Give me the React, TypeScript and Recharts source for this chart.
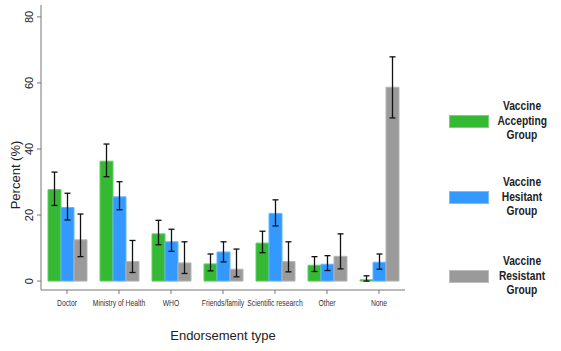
import { BarChart, Bar, XAxis, YAxis, ErrorBar } from 'recharts'

const categories = ['Doctor', 'Ministry of Health', 'WHO', 'Friends/family', 'Scientific research', 'Other', 'None']

// point estimates (%)
const accepting = [27.7, 36.3, 14.3, 5.2, 11.5, 4.8, 0.4]
const hesitant = [22.3, 25.5, 11.9, 8.8, 20.5, 5.1, 5.7]
const resistant = [12.5, 5.9, 5.5, 3.6, 5.9, 7.5, 58.7]

// 95% CI bounds
const acceptingLow = [22.9, 31.6, 11.0, 3.1, 8.6, 2.9, 0]
const acceptingHigh = [33.0, 41.5, 18.4, 8.2, 15.1, 7.4, 1.6]
const hesitantLow = [18.5, 21.6, 9.0, 5.8, 16.7, 3.2, 3.6]
const hesitantHigh = [26.6, 30.1, 15.7, 11.9, 24.6, 7.7, 8.2]
const resistantLow = [7.4, 2.6, 2.3, 1.3, 2.8, 3.7, 49.4]
const resistantHigh = [20.3, 12.3, 11.9, 9.7, 11.9, 14.3, 67.9]

const yTicks = [0, 20, 40, 60, 80]

const GREEN = '#35b935'
const BLUE = '#3399ff'
const GRAY = '#9a9a9a'

const data = categories.map((c, i) => ({
  name: c,
  acc: accepting[i],
  hes: hesitant[i],
  res: resistant[i],
  accErr: [accepting[i] - acceptingLow[i], acceptingHigh[i] - accepting[i]],
  hesErr: [hesitant[i] - hesitantLow[i], hesitantHigh[i] - hesitant[i]],
  resErr: [resistant[i] - resistantLow[i], resistantHigh[i] - resistant[i]],
}))

const legendItems = [
  { color: GREEN, lines: ['Vaccine', 'Accepting', 'Group'], top: 99 },
  { color: BLUE, lines: ['Vaccine', 'Hesitant', 'Group'], top: 175 },
  { color: GRAY, lines: ['Vaccine', 'Resistant', 'Group'], top: 254 },
]

const font = '"Liberation Sans", Arial, sans-serif'

function YTick(props: any) {
  const { x, y, payload } = props
  return (
    <text
      x={x - 2}
      y={y}
      transform={`rotate(-90 ${x - 2} ${y})`}
      textAnchor="middle"
      fontSize={11}
      fill="#222"
      fontFamily={font}
    >
      {payload.value}
    </text>
  )
}

// tick labels in the original are set in a condensed face
function XTick(props: any) {
  const { x, y, payload } = props
  return (
    <text
      transform={`translate(${x} ${y + 10}) scale(0.8 1)`}
      textAnchor="middle"
      fontSize={8.5}
      fill="#333"
      fontFamily={font}
    >
      {payload.value}
    </text>
  )
}

export default function App() {
  return (
    <div style={{ position: 'absolute', left: 0, top: 0, width: 561, height: 351, background: '#fff' }}>
      <BarChart
        width={561}
        height={351}
        data={data}
        margin={{ top: 5, right: 156, bottom: 0, left: 0 }}
        barGap={0}
        barSize={13}
      >
        <XAxis
          dataKey="name"
          height={61}
          stroke="#777"
          tickSize={4}
          tick={<XTick />}
          interval={0}
          label={{
            value: 'Endorsement type',
            position: 'insideBottom',
            offset: 11,
            fontSize: 13,
            fill: '#222',
            fontFamily: font,
          }}
        />
        <YAxis
          width={41}
          type="number"
          domain={[-2.7, 83.6]}
          ticks={yTicks}
          allowDataOverflow
          stroke="#777"
          tickSize={4}
          tick={<YTick />}
          label={{
            value: 'Percent (%)',
            content: () => (
              <text
                x={20}
                y={175}
                transform="rotate(-90 20 175)"
                textAnchor="middle"
                fontSize={13}
                fill="#222"
                fontFamily={font}
              >
                Percent (%)
              </text>
            ),
          }}
        />
        <Bar dataKey="acc" fill={GREEN} stroke="#5fd05f" strokeWidth={1} isAnimationActive={false}>
          <ErrorBar dataKey="accErr" width={3} stroke="#111" strokeWidth={1.3} />
        </Bar>
        <Bar dataKey="hes" fill={BLUE} stroke="#66b5ff" strokeWidth={1} isAnimationActive={false}>
          <ErrorBar dataKey="hesErr" width={3} stroke="#111" strokeWidth={1.3} />
        </Bar>
        <Bar dataKey="res" fill={GRAY} stroke="#b5b5b5" strokeWidth={1} isAnimationActive={false}>
          <ErrorBar dataKey="resErr" width={3} stroke="#111" strokeWidth={1.3} />
        </Bar>
      </BarChart>
      {legendItems.map((it) => (
        <div key={it.lines[1]} style={{ position: 'absolute', left: 449, top: it.top, width: 112, height: 45 }}>
          <div
            style={{
              position: 'absolute',
              left: 0,
              top: 16,
              width: 40,
              height: 13,
              background: it.color,
              boxSizing: 'border-box',
              border: '1px solid rgba(255,255,255,0.35)',
            }}
          />
          <div
            style={{
              position: 'absolute',
              left: 43,
              top: 0,
              width: 60,
              textAlign: 'center',
              fontFamily: font,
              fontWeight: 'bold',
              fontSize: 12.5,
              lineHeight: '14.5px',
              color: '#222',
              transform: 'scaleX(0.82)',
            }}
          >
            {it.lines.map((l) => (
              <div key={l}>{l}</div>
            ))}
          </div>
        </div>
      ))}
    </div>
  )
}
